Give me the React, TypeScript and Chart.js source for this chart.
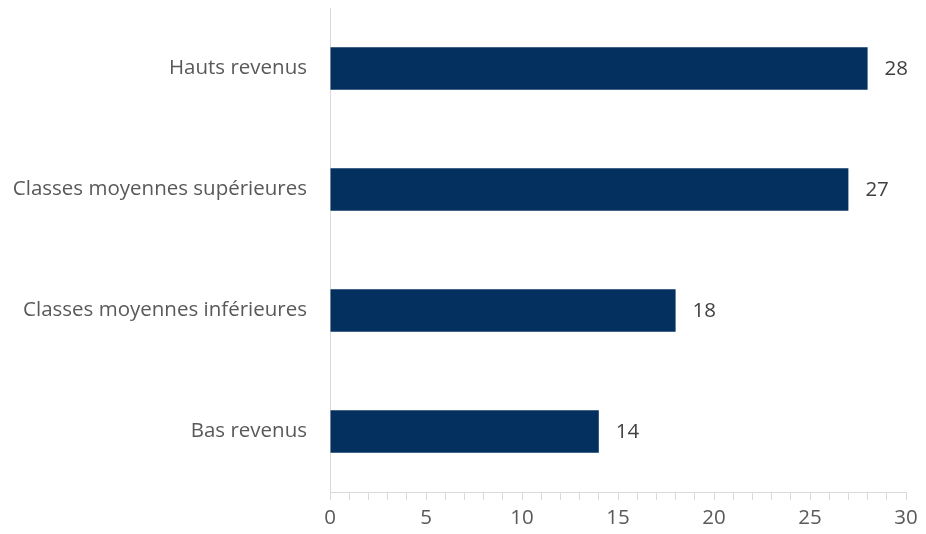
import React, { useEffect, useRef } from "react";
import { Chart, registerables } from "chart.js";

Chart.register(...registerables);

const categories = [
  "Hauts revenus",
  "Classes moyennes supérieures",
  "Classes moyennes inférieures",
  "Bas revenus",
];
const values = [28, 27, 18, 14];
const xMin = 0;
const xMax = 30;

const FONT = "'Open Sans', sans-serif";
const FSIZE = 20.5;

const valueLabels = {
  id: "valueLabels",
  afterDatasetsDraw(chart: any) {
    const ctx = chart.ctx;
    const meta = chart.getDatasetMeta(0);
    ctx.save();
    ctx.font = `${FSIZE}px ${FONT}`;
    ctx.fillStyle = "#404040";
    ctx.textAlign = "left";
    ctx.textBaseline = "middle";
    meta.data.forEach((bar: any, i: number) => {
      ctx.fillText(String(values[i]), bar.x + 17, bar.y + 1);
    });
    ctx.restore();
  },
};

export default function App() {
  const ref = useRef<HTMLCanvasElement>(null);
  useEffect(() => {
    if (!ref.current) return;
    const chart = new Chart(ref.current, {
      type: "bar",
      data: {
        labels: categories,
        datasets: [
          {
            data: values,
            backgroundColor: "#03305F",
            borderWidth: 0,
            barPercentage: 0.35,
            categoryPercentage: 1,
          },
        ],
      },
      options: {
        indexAxis: "y",
        animation: false,
        responsive: false,
        devicePixelRatio: 1,
        layout: { padding: 0 },
        plugins: { legend: { display: false }, tooltip: { enabled: false } },
        scales: {
          x: {
            min: xMin,
            max: xMax,
            afterFit: (s: any) => {
              s.height = 34;
              s.paddingLeft = 0;
              s.paddingRight = 12;
            },
            ticks: {
              stepSize: 1,
              autoSkip: false,
              maxRotation: 0,
              padding: 6,
              color: "#595959",
              font: { family: FONT, size: FSIZE },
              callback: (v: any) => (Number(v) % 5 === 0 ? String(v) : ""),
            },
            grid: {
              drawOnChartArea: false,
              drawTicks: true,
              tickLength: 8,
              tickColor: "#d9d9d9",
            },
            border: { display: true, color: "#d9d9d9" },
          },
          y: {
            afterFit: (s: any) => {
              s.width = 322;
              s.paddingTop = 0;
              s.paddingBottom = 0;
            },
            ticks: {
              padding: 15,
              color: "#595959",
              font: { family: FONT, size: FSIZE },
            },
            grid: { display: false },
            border: { display: true, color: "#d9d9d9" },
          },
        },
      },
      plugins: [valueLabels],
    });
    return () => chart.destroy();
  }, []);
  return (
    <div style={{ width: 910, height: 518 }}>
      <canvas ref={ref} width={910} height={518} style={{ display: "block" }} />
    </div>
  );
}
